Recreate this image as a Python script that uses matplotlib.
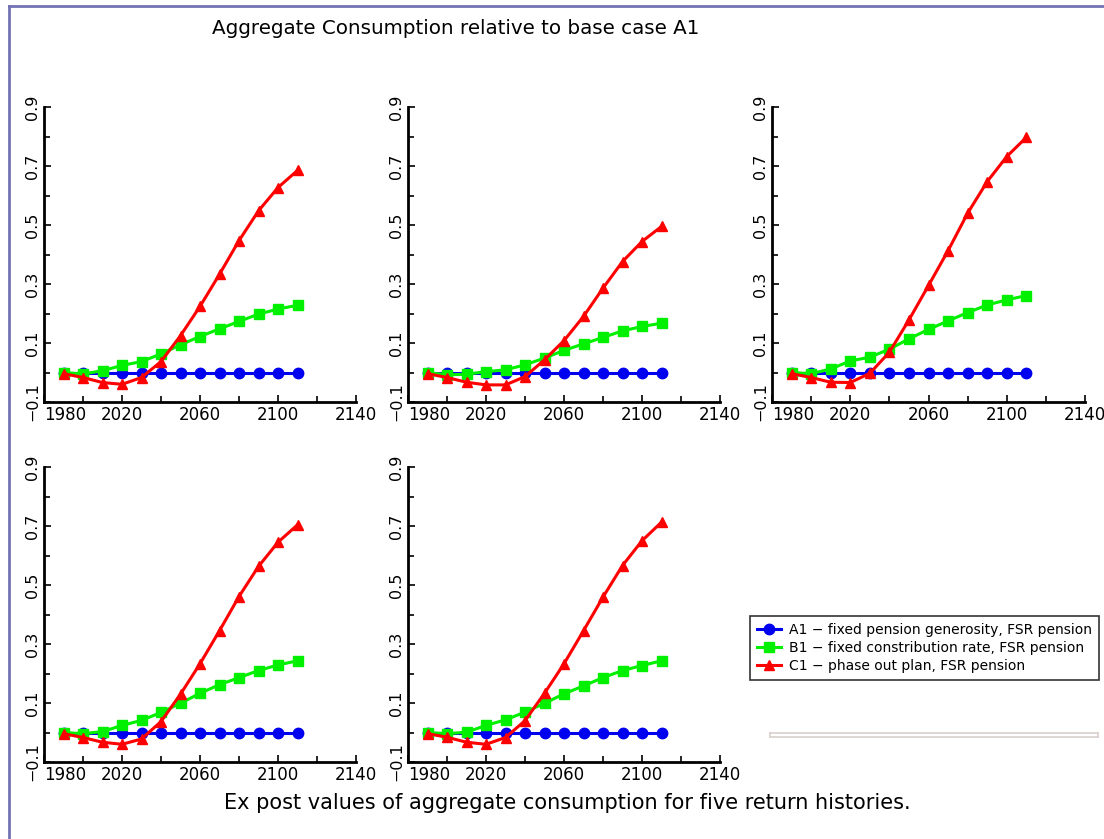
import numpy as np
import matplotlib
matplotlib.use("Agg")
import matplotlib.pyplot as plt
from matplotlib.lines import Line2D
from matplotlib.legend_handler import HandlerLine2D

# years of the simulation
years = [1990, 2000, 2010, 2020, 2030, 2040, 2050, 2060, 2070, 2080, 2090, 2100, 2110]

# base case A1 is zero by definition
a1 = [0.0] * 13

# B1 - fixed contribution rate, one list per return history
b1_1 = [0.0, -0.005, 0.006, 0.024, 0.037, 0.063, 0.094, 0.122, 0.148, 0.173, 0.198, 0.215, 0.228]
b1_2 = [0.0, -0.008, -0.006, 0.003, 0.009, 0.026, 0.049, 0.075, 0.097, 0.119, 0.141, 0.156, 0.167]
b1_3 = [0.0, -0.004, 0.012, 0.039, 0.052, 0.079, 0.114, 0.146, 0.175, 0.203, 0.229, 0.246, 0.261]
b1_4 = [0.0, -0.004, 0.003, 0.024, 0.041, 0.068, 0.099, 0.133, 0.162, 0.186, 0.210, 0.229, 0.243]
b1_5 = [0.0, -0.004, 0.001, 0.024, 0.043, 0.069, 0.099, 0.131, 0.158, 0.186, 0.210, 0.227, 0.243]

# C1 - phase out plan
c1_1 = [-0.004, -0.017, -0.034, -0.040, -0.017, 0.037, 0.125, 0.224, 0.333, 0.447, 0.548, 0.627, 0.685]
c1_2 = [-0.004, -0.017, -0.033, -0.042, -0.042, -0.014, 0.043, 0.108, 0.190, 0.286, 0.376, 0.444, 0.495]
c1_3 = [-0.004, -0.017, -0.033, -0.034, -0.003, 0.069, 0.178, 0.295, 0.413, 0.540, 0.647, 0.732, 0.797]
c1_4 = [-0.004, -0.017, -0.033, -0.040, -0.022, 0.037, 0.130, 0.233, 0.345, 0.461, 0.563, 0.645, 0.704]
c1_5 = [-0.004, -0.016, -0.033, -0.040, -0.017, 0.040, 0.133, 0.233, 0.345, 0.459, 0.566, 0.650, 0.713]

b1_all = [b1_1, b1_2, b1_3, b1_4, b1_5]
c1_all = [c1_1, c1_2, c1_3, c1_4, c1_5]

labels = ["A1 \u2212 fixed pension generosity, FSR pension",
          "B1 \u2212 fixed constribution rate, FSR pension",
          "C1 \u2212 phase out plan, FSR pension"]

xticks = [1980, 2020, 2060, 2100, 2140]
xminor = [2000, 2040, 2080, 2120]
yticks = [-0.1, 0.1, 0.3, 0.5, 0.7, 0.9]
yminor = [0.0, 0.2, 0.4, 0.6, 0.8]

W, H = 1104, 839
fig = plt.figure(figsize=(W / 100, H / 100), dpi=100)
plt.rcParams['font.family'] = ['DejaVu Sans']


def px_axes(left, top, right, bottom):
    return fig.add_axes([left / W, 1 - bottom / H, (right - left) / W, (bottom - top) / H])


# panel positions in pixels (left, top, right, bottom)
boxes = [(44, 107, 356, 402), (408, 107, 720, 402), (772, 107, 1085, 402),
         (44, 467, 356, 762), (408, 467, 720, 762)]

handles = None
for i, box in enumerate(boxes):
    ax = px_axes(*box)
    la, = ax.plot(years, a1, color="#0000f0", lw=2.2, marker="o", ms=7.5, zorder=3)
    lb, = ax.plot(years, b1_all[i], color="#00f000", lw=2.2, marker="s", ms=7, zorder=4)
    lc, = ax.plot(years, c1_all[i], color="#ff0000", lw=2.2, marker="^", ms=7.5, zorder=5)
    if handles is None:
        handles = [la, lb, lc]

    ax.set_xticks(xticks)
    ax.set_xticks(xminor, minor=True)
    ax.set_xticklabels([str(v) for v in xticks])
    ax.set_yticks(yticks)
    ax.set_yticks(yminor, minor=True)
    ax.set_yticklabels(["\u22120.1", "0.1", "0.3", "0.5", "0.7", "0.9"])
    ax.set_xlim(1980, 2140)
    ax.set_ylim(-0.1, 0.9)

    for s in ["top", "right"]:
        ax.spines[s].set_visible(False)
    for s in ["left", "bottom"]:
        ax.spines[s].set_linewidth(2)
    ax.tick_params(which="both", direction="in", width=1.2, pad=3)
    ax.tick_params(axis="x", labelsize=12)
    ax.tick_params(axis="y", labelsize=11.5, labelrotation=90)
    ax.tick_params(which="major", length=5)
    ax.tick_params(which="minor", length=4)
    for t in ax.get_yticklabels():
        t.set_va("center")
    # first year label is pushed to the right of the y labels
    ax.get_xticklabels()[0].set_ha("left")

# empty sixth slot: collapsed axis box
ax6 = px_axes(770, 733, 1098, 737)
ax6.set_xticks([])
ax6.set_yticks([])
for s in ax6.spines.values():
    s.set_color("#d8d0cc")
    s.set_linewidth(1.2)


class LeftMarker(HandlerLine2D):
    def get_xdata(self, legend, xdescent, ydescent, width, height, fontsize):
        xdata, _ = super().get_xdata(legend, xdescent, ydescent, width, height, fontsize)
        return xdata, [xdata[0]]


leg = fig.legend(handles, labels, loc="upper left", bbox_to_anchor=(750 / W, 1 - 616 / H),
                 fontsize=10, frameon=True, fancybox=False, edgecolor="#333333",
                 framealpha=1, handlelength=1.7, handletextpad=0.6, borderpad=0.5,
                 labelspacing=0.3, borderaxespad=0, numpoints=1,
                 handler_map={h: LeftMarker() for h in handles})
leg.get_frame().set_linewidth(1.2)

fig.text(456 / W, 1 - 28 / H, "Aggregate Consumption relative to base case A1",
         ha="center", va="center", fontsize=14.3)
fig.text(567 / W, 1 - 803 / H,
         "Ex post values of aggregate consumption for five return histories.",
         ha="center", va="center", fontsize=15)

# frame lines on the left and top edge
fig.add_artist(Line2D([9 / W, 9 / W], [0, 1 - 6 / H], color="#7272b4", lw=2))
fig.add_artist(Line2D([9 / W, 1], [1 - 6 / H, 1 - 6 / H], color="#7272b4", lw=2))

fig.savefig("out.png", dpi=100)
